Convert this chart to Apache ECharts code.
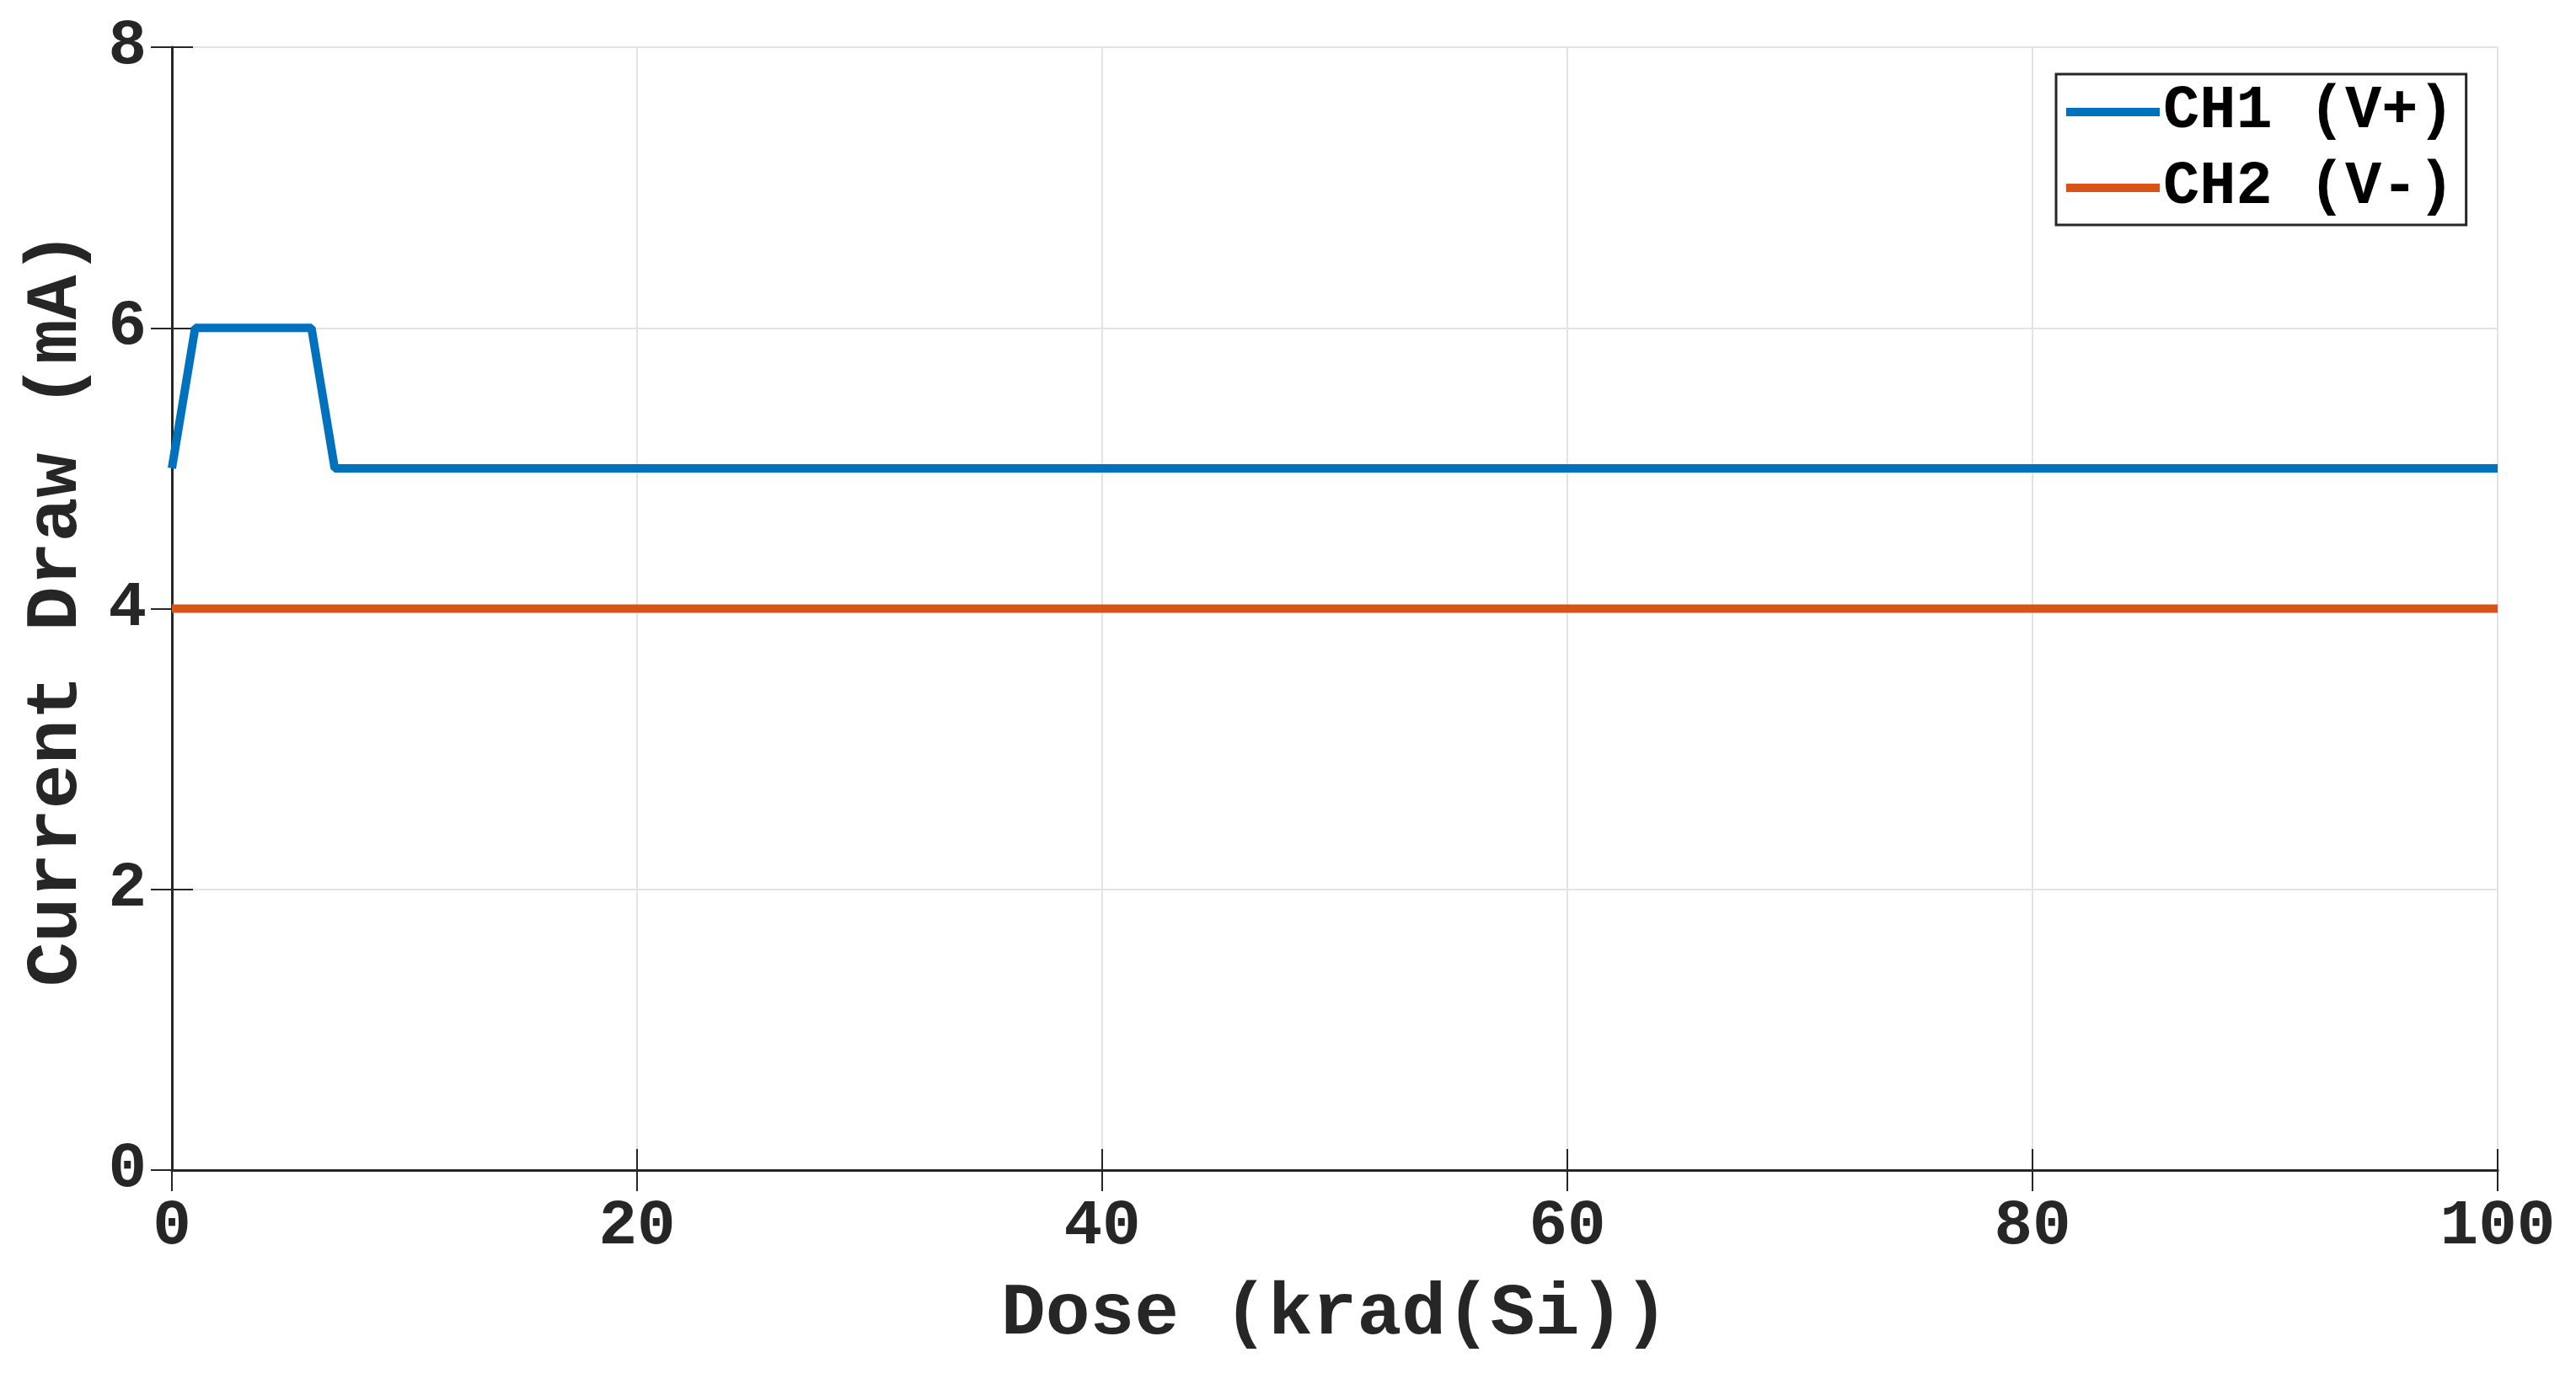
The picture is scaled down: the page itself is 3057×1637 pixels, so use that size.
<!DOCTYPE html>
<html>
<head>
<meta charset="utf-8">
<title>Current Draw vs Dose</title>
<script src="https://cdn.jsdelivr.net/npm/echarts@6/dist/echarts.min.js"></script>
<style>
  html, body { margin: 0; padding: 0; background: #fff; }
  #chart { width: 3057px; height: 1637px; }
</style>
</head>
<body>
<div id="chart"></div>
<script>
// dose points (krad(Si))
const dose = [0, 1, 2, 3, 4, 5, 6, 7, 10, 20, 30, 40, 50, 60, 70, 80, 90, 100]
// current draw (mA)
const ch1 = [5, 6, 6, 6, 6, 6, 6, 5, 5, 5, 5, 5, 5, 5, 5, 5, 5, 5]
const ch2 = [4, 4, 4, 4, 4, 4, 4, 4, 4, 4, 4, 4, 4, 4, 4, 4, 4, 4]
const seriesNames = ['CH1 (V+)', 'CH2 (V-)']
const xTicks = [0, 20, 40, 60, 80, 100]
const yTicks = [0, 2, 4, 6, 8]

const mono = "'Liberation Mono', 'DejaVu Sans Mono', monospace"
const ink = '#262626'

const chart = echarts.init(document.getElementById('chart'))

function pairs(ys) {
  return dose.map((x, i) => [x, ys[i]])
}

// axis used only to draw the box and the inward ticks on top/right
function boxAxis(pos, min, max, step) {
  return {
    type: 'value', position: pos, min: min, max: max, interval: step,
    axisLine: { show: true, lineStyle: { color: ink, width: 3 } },
    axisTick: { show: true, inside: true, length: 25, lineStyle: { color: ink, width: 2 } },
    axisLabel: { show: false },
    splitLine: { show: false }
  }
}

const option = {
  animation: false,
  backgroundColor: '#fff',
  color: ['#0072BD', '#D95319'],
  grid: { left: 204, right: 93, top: 56, bottom: 248 },
  legend: {
    data: seriesNames,
    orient: 'vertical',
    left: 2440,
    top: 88,
    icon: 'rect',
    itemWidth: 111,
    itemHeight: 10,
    itemGap: 18,
    padding: [9, 14, 8, 12],
    borderColor: ink,
    borderWidth: 3,
    backgroundColor: '#fff',
    textStyle: {
      fontFamily: mono, fontWeight: 'bold', fontSize: 72, lineHeight: 72,
      color: '#000', padding: [0, 0, 0, -1]
    }
  },
  xAxis: [
    {
      type: 'value', min: xTicks[0], max: xTicks[xTicks.length - 1], interval: 20,
      name: 'Dose (krad(Si))', nameLocation: 'middle', nameGap: 128,
      nameTextStyle: { fontFamily: mono, fontWeight: 'bold', fontSize: 88, color: ink },
      axisLine: { show: true, lineStyle: { color: ink, width: 3 } },
      axisTick: { show: true, inside: true, length: 25, lineStyle: { color: ink, width: 2 } },
      axisLabel: { fontFamily: mono, fontWeight: 'bold', fontSize: 76, color: ink, margin: 30 },
      splitLine: { show: true, lineStyle: { color: '#e3e3e3', width: 2 } }
    },
    boxAxis('top', 0, 100, 20)
  ],
  yAxis: [
    {
      type: 'value', min: yTicks[0], max: yTicks[yTicks.length - 1], interval: 2,
      name: 'Current Draw (mA)', nameLocation: 'middle', nameGap: 92,
      nameTextStyle: { fontFamily: mono, fontWeight: 'bold', fontSize: 88, color: ink },
      axisLine: { show: true, lineStyle: { color: ink, width: 3 } },
      axisTick: { show: true, inside: true, length: 25, lineStyle: { color: ink, width: 2 } },
      axisLabel: { fontFamily: mono, fontWeight: 'bold', fontSize: 76, color: ink, margin: 30 },
      splitLine: { show: true, lineStyle: { color: '#e3e3e3', width: 2 } }
    },
    boxAxis('right', 0, 8, 2)
  ],
  series: [
    {
      name: seriesNames[0], type: 'line', data: pairs(ch1),
      showSymbol: false, lineStyle: { width: 10 }, z: 3
    },
    {
      name: seriesNames[1], type: 'line', data: pairs(ch2),
      showSymbol: false, lineStyle: { width: 10 }, z: 2
    }
  ]
}

chart.setOption(option)
</script>
</body>
</html>
